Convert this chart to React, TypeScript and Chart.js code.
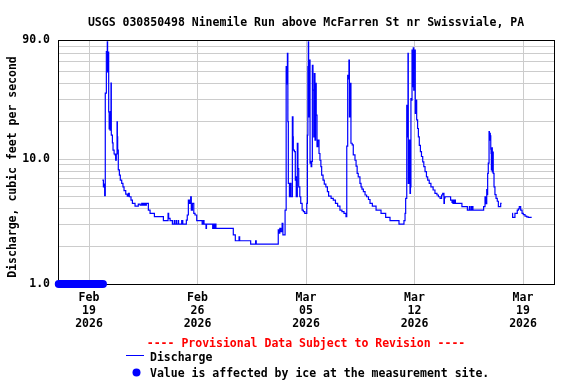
import React, { useEffect, useRef } from 'react';
import { Chart, registerables } from 'chart.js';

Chart.register(...registerables);

const TITLE = 'USGS 030850498 Ninemile Run above McFarren St nr Swissviale, PA';
const Y_TITLE = 'Discharge, cubic feet per second';
const PROVISIONAL = '---- Provisional Data Subject to Revision ----';
const LEGEND_DISCHARGE = 'Discharge';
const LEGEND_ICE = 'Value is affected by ice at the measurement site.';

// x values are days since 2026-02-17 00:00
const X_MIN = 0;
const X_MAX = 32;
const xTickDays = [2, 9, 16, 23, 30];
const xTickLabels = [
  ['Feb', '19', '2026'],
  ['Feb', '26', '2026'],
  ['Mar', '05', '2026'],
  ['Mar', '12', '2026'],
  ['Mar', '19', '2026'],
];

const Y_MIN = 1;
const Y_MAX = 90;
const yGridValues = [1, 2, 3, 4, 5, 6, 7, 8, 9, 10, 20, 30, 40, 50, 60, 70, 80, 90];
const yLabelValues = [1, 10, 90];
const yLabelTexts = ['1.0', '10.0', '90.0'];

const dischargeDays = [
  2.86, 2.93, 2.97, 3.01, 3.05, 3.12, 3.18, 3.20, 3.25, 3.27, 3.30, 3.33, 3.36, 3.38, 3.42, 3.44,
  3.51, 3.55, 3.62, 3.68, 3.72, 3.76, 3.81, 3.83, 3.85, 3.89, 3.96, 4.02, 4.11, 4.19, 4.26, 4.37,
  4.47, 4.55, 4.60, 4.71, 4.80, 4.97, 5.18, 5.30, 5.40, 5.45, 5.50, 5.55, 5.60, 5.65, 5.70, 5.83,
  5.94, 6.22, 6.80, 7.10, 7.14, 7.23, 7.38, 7.50, 7.52, 7.62, 7.64, 7.75, 7.78, 7.98, 8.05, 8.28,
  8.34, 8.41, 8.48, 8.56, 8.60, 8.67, 8.76, 8.84, 8.95, 9.30, 9.38, 9.42, 9.55, 9.58, 9.98, 10.02,
  10.08, 10.12, 10.19, 11.31, 11.44, 11.68, 11.72, 12.43, 12.75, 12.79, 14.21, 14.28, 14.31, 14.38,
  14.46, 14.51, 14.65, 14.72, 14.76, 14.80, 14.83, 14.86, 14.93, 14.97, 15.03, 15.12, 15.16, 15.18,
  15.25, 15.31, 15.35, 15.37, 15.44, 15.48, 15.53, 15.60, 15.66, 15.75, 15.83, 15.92, 16.05, 16.09,
  16.12, 16.15, 16.17, 16.19, 16.22, 16.26, 16.30, 16.33, 16.37, 16.41, 16.45, 16.50, 16.54, 16.58,
  16.62, 16.66, 16.71, 16.76, 16.84, 16.90, 16.96, 17.01, 17.10, 17.18, 17.28, 17.38, 17.46, 17.62,
  17.76, 17.90, 18.04, 18.19, 18.32, 18.45, 18.58, 18.63, 18.69, 18.73, 18.77, 18.80, 18.84, 18.87,
  18.90, 18.98, 19.05, 19.16, 19.23, 19.30, 19.37, 19.48, 19.55, 19.61, 19.70, 19.81, 19.91, 20.03,
  20.13, 20.28, 20.52, 20.84, 21.14, 21.42, 22.00, 22.32, 22.39, 22.43, 22.50, 22.54, 22.58, 22.60,
  22.66, 22.71, 22.74, 22.77, 22.81, 22.84, 22.88, 22.92, 22.95, 22.97, 23.01, 23.05, 23.10, 23.14,
  23.20, 23.25, 23.31, 23.38, 23.45, 23.53, 23.60, 23.68, 23.77, 23.85, 23.95, 24.06, 24.20, 24.32,
  24.45, 24.54, 24.65, 24.75, 24.82, 24.90, 24.93, 24.97, 25.29, 25.33, 25.42, 25.45, 25.48, 25.52,
  25.55, 25.60, 25.64, 26.06, 26.41, 26.54, 26.56, 26.65, 26.67, 26.75, 26.77, 27.46, 27.55, 27.61,
  27.66, 27.70, 27.72, 27.76, 27.81, 27.83, 27.85, 27.89, 27.92, 27.94, 27.96, 28.00, 28.02, 28.04,
  28.08, 28.13, 28.19, 28.26, 28.34, 28.41, 28.56, 28.62, 29.00, 29.31, 29.33, 29.42, 29.48, 29.63,
  29.70, 29.76, 29.85, 29.94, 30.02, 30.13, 30.24, 30.34, 30.56,
];

const dischargeValues: (number | null)[] = [
  6.8, 6.0, 6.3, 5.1, 33.8, 72.6, 87, 50, 72, 23.9, 17.5, 22, 17.1, 24, 40.6, 15.6,
  13.5, 11.8, 11.0, 10.8, 9.8, 11.0, 19.9, 15.1, 11.8, 8.2, 7.45, 6.8, 6.4, 6.0, 5.6, 5.25,
  5.06, 5.32, 5.0, 4.7, 4.43, 4.21, 4.37, 4.29, 4.43, 4.29, 4.43, 4.29, 4.43, 4.29, 4.43, 3.91,
  3.68, 3.46, 3.22, 3.68, 3.35, 3.22, 3.02, 3.22, 3.02, 3.22, 3.02, 3.22, 3.02, 3.22, 3.02, 3.25,
  3.57, 4.7, 4.43, 5.0, 3.91, 4.43, 3.68, 3.57, 3.22, 3.02, 3.22, 3.02, 2.79, 3.02, 2.79, 3.02,
  2.79, 3.02, 2.79, 2.47, 2.22, 2.39, 2.22, 2.09, 2.22, 2.09, 2.71, 2.55, 2.79, 2.62,
  3.06, 2.47, 3.91, 55, 40, 70.4, 20, 6.4, 5.0, 6.4, 5.0, 21.8, 15.1, 11.8,
  11.5, 6.8, 7.2, 5.0, 13.4, 8.4, 6.0, 5.0, 4.43, 3.91, 3.8, 3.68, 4.43, 15.6,
  55, 87, 55, 21.8, 62.2, 9.3, 9.6, 8.7, 9.6, 56.5, 35.7, 15.1, 48.5, 14.2,
  40.4, 22.5, 12.6, 14.2, 11.1, 9.8, 8.7, 7.45, 6.8, 6.3, 6.0, 5.49, 5.06, 4.85,
  4.7, 4.43, 4.21, 3.91, 3.8, 3.68, 3.46, 12.7, 47, 44, 62.2, 21.8, 31.4, 40.4,
  13.4, 13.0, 10.8, 9.8, 8.8, 7.7, 7.2, 6.4, 6.0, 5.76, 5.5, 5.16, 5.0, 4.75,
  4.43, 4.21, 3.91, 3.68, 3.42, 3.22, 3.02, 3.22, 3.68, 4.85, 27, 15.1, 70.4, 6.4,
  14.2, 5.32, 6.0, 30.6, 29.7, 74.7, 38, 78, 35.7, 53.3, 74.7, 23.3, 29.7, 20.6,
  17.6, 15.1, 12.9, 11.5, 10.5, 9.5, 8.7, 7.93, 7.2, 6.8, 6.4, 6.0, 5.66, 5.32,
  5.16, 5.0, 4.85, 5.16, 5.32, 4.43, 4.9, 5.0, 5.0, 4.7, 4.5, 4.7, 4.43, 4.7,
  4.43, 4.7, 4.43, 4.16, 3.91, 4.16, 3.91, 4.16, 3.91, 4.16, 3.91, 4.16, 5.0, 4.4,
  5.7, 5.2, 7.7, 9.3, 16.6, 14.2, 16.1, 15.4, 12.0, 11.1, 8.2, 12.3, 7.9, 11.4,
  7.7, 6.0, 5.2, 4.85, 4.6, 4.16, 4.43, 4.43, null, 3.68, 3.42, 3.42, 3.68, 3.91,
  4.0, 4.16, 3.91, 3.68, 3.6, 3.5, 3.45, 3.42, 3.42,
];

const iceDays = [0.05, 2.9];
const iceValues = [1, 1];

const FONT = 'bold 11.5px "DejaVu Sans Mono"';
const BLUE = '#0000ff';

const decor = {
  id: 'decor',
  beforeDatasetsDraw(chart: any) {
    const { ctx, chartArea: a } = chart;
    ctx.save();
    ctx.strokeStyle = '#000';
    ctx.lineWidth = 1;
    ctx.strokeRect(a.left + 0.5, a.top + 0.5, a.right - a.left, a.bottom - a.top);
    ctx.restore();
  },
  afterDraw(chart: any) {
    const { ctx, chartArea: a } = chart;
    ctx.save();
    ctx.font = FONT;
    ctx.textBaseline = 'alphabetic';
    const cx = (a.left + a.right) / 2;

    ctx.fillStyle = '#000';
    ctx.textAlign = 'center';
    ctx.fillText(TITLE, cx, 26);

    ctx.save();
    ctx.translate(15.5, 167);
    ctx.rotate(-Math.PI / 2);
    ctx.textAlign = 'center';
    ctx.fillText(Y_TITLE, 0, 0);
    ctx.restore();

    ctx.fillStyle = '#ff0000';
    ctx.textAlign = 'center';
    ctx.fillText(PROVISIONAL, cx, 347);

    ctx.fillStyle = BLUE;
    ctx.fillRect(126, 355, 18, 1);
    ctx.beginPath();
    ctx.arc(136.5, 372.5, 4, 0, Math.PI * 2);
    ctx.fill();

    ctx.fillStyle = '#000';
    ctx.textAlign = 'left';
    ctx.fillText(LEGEND_DISCHARGE, 150, 361);
    ctx.fillText(LEGEND_ICE, 150, 377);
    ctx.restore();
  },
};

export default function App() {
  const ref = useRef<HTMLCanvasElement>(null);
  useEffect(() => {
    const canvas = ref.current!;
    const tickFont = { family: 'DejaVu Sans Mono', size: 11.5, weight: 'bold' as const, lineHeight: 1.13 };
    const chart = new Chart(canvas, {
      type: 'line',
      data: {
        datasets: [
          {
            label: LEGEND_DISCHARGE,
            data: dischargeDays.map((d, i) => ({ x: d, y: dischargeValues[i] })) as any,
            borderColor: BLUE,
            borderWidth: 1.2,
            pointRadius: 0,
            stepped: true,
            spanGaps: false,
            fill: false,
          },
          {
            label: 'Ice',
            data: iceDays.map((d, i) => ({ x: d, y: iceValues[i] })) as any,
            borderColor: BLUE,
            borderWidth: 8,
            borderCapStyle: 'round',
            pointRadius: 0,
            clip: false as any,
            fill: false,
          },
        ],
      },
      options: {
        responsive: false,
        animation: false,
        devicePixelRatio: 1,
        layout: { padding: { left: 0, top: 40, right: 22, bottom: 0 } },
        plugins: {
          legend: { display: false },
          title: { display: false },
          tooltip: { enabled: false },
        },
        scales: {
          x: {
            type: 'linear',
            min: X_MIN,
            max: X_MAX,
            afterBuildTicks: (s: any) => {
              s.ticks = xTickDays.map((v) => ({ value: v }));
            },
            afterFit: (s: any) => {
              s.height = 100;
            },
            grid: { color: '#cccccc', lineWidth: 1, drawTicks: false },
            border: { display: false },
            ticks: {
              autoSkip: false,
              maxRotation: 0,
              padding: 8,
              color: '#000',
              font: tickFont,
              callback: (v: any) => {
                const i = xTickDays.indexOf(Number(v));
                return i >= 0 ? xTickLabels[i] : '';
              },
            },
          },
          y: {
            type: 'logarithmic',
            min: Y_MIN,
            max: Y_MAX,
            afterBuildTicks: (s: any) => {
              s.ticks = yGridValues.map((v) => ({ value: v }));
            },
            afterFit: (s: any) => {
              s.width = 58;
            },
            grid: { color: '#cccccc', lineWidth: 1, drawTicks: false },
            border: { display: false },
            ticks: {
              autoSkip: false,
              padding: 8,
              color: '#000',
              font: tickFont,
              callback: (v: any) => {
                const i = yLabelValues.indexOf(Number(v));
                return i >= 0 ? yLabelTexts[i] : '';
              },
            },
          },
        },
      },
      plugins: [decor],
    });
    return () => chart.destroy();
  }, []);
  return (
    <div style={{ position: 'fixed', left: 0, top: 0, width: 576, height: 384, background: '#fff' }}>
      <canvas ref={ref} width={576} height={384} style={{ display: 'block', width: 576, height: 384 }} />
    </div>
  );
}
